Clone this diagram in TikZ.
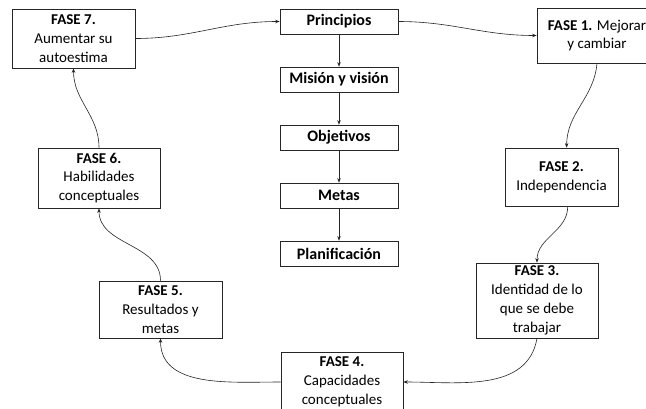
\documentclass[tikz,border=0pt]{standalone}
\usepackage{fontspec}
\setmainfont{Carlito}
\usetikzlibrary{arrows.meta}
\begin{document}
\begin{tikzpicture}[x=1pt,y=-1pt,
  fase/.style={draw=black!85, line width=0.7pt, align=center, inner sep=0pt,
    font=\fontsize{15}{18.8}\selectfont},
  cbox/.style={draw=black!85, line width=0.7pt, align=center, inner sep=0pt,
    minimum width=118pt, minimum height=25pt, font=\fontsize{16}{18}\selectfont\bfseries},
  conn/.style={line width=0.6pt, draw=black!85, -{Stealth[length=4.5pt,width=3.5pt]}}]
\useasboundingbox (0,0) rectangle (646,408);
\fill[white] (0,0) rectangle (646,408);
\begin{scope}
\clip (0,0) rectangle (646,408);
% center column
\node[cbox] (p)  at (339,21.5)  {Principios};
\node[cbox] (mv) at (339,79.5)  {Misión y visión};
\node[cbox] (ob) at (339,137.5) {Objetivos};
\node[cbox] (me) at (339,195.5) {Metas};
\node[cbox] (pl) at (339,253.5) {Planificación};
% phases
\node[fase, minimum width=123pt, minimum height=59pt] (f7) at (73.5,38.5)
  {\textbf{FASE 7.}\\Aumentar su\\autoestima};
\node[fase, minimum width=120pt, minimum height=55pt] (f1) at (597,35.5)
  {\textbf{FASE 1.} Mejorar\\y cambiar};
\node[fase, minimum width=113pt, minimum height=58pt] (f2) at (561.5,177)
  {\textbf{FASE 2.}\\Independencia};
\node[fase, minimum width=122pt, minimum height=75pt] (f3) at (537,300.5)
  {\textbf{FASE 3.}\\Identidad de lo\\que se debe\\trabajar};
\node[fase, minimum width=122pt, minimum height=60pt] (f4) at (342,382)
  {\textbf{FASE 4.}\\Capacidades\\conceptuales};
\node[fase, minimum width=123pt, minimum height=57pt] (f5) at (160.5,309.5)
  {\textbf{FASE 5.}\\Resultados y\\metas};
\node[fase, minimum width=122pt, minimum height=60pt] (f6) at (99,178)
  {\textbf{FASE 6.}\\Habilidades\\conceptuales};
% center arrows
\draw[conn] (p) -- (mv);
\draw[conn] (mv) -- (ob);
\draw[conn] (ob) -- (me);
\draw[conn] (me) -- (pl);
% cycle
\draw[conn] (f7.east) to[out=0,in=180] (p.west);
\draw[conn] (p.east) to[out=0,in=180] (f1.west);
\draw[conn] (f1.south) to[out=-95,in=90] (f2.80);
\draw[conn] (f2.-78) to[out=-90,in=90] (f3.north);
\draw[conn] (f3.south) to[out=-100,in=0] (f4.east);
\draw[conn] (f4.west) to[out=180,in=-90] (f5.south);
\draw[conn] (f5.north) to[out=90,in=-90] (f6.south);
\draw[conn] (f6.north) to[out=90,in=-90] (f7.south);
\end{scope}
\end{tikzpicture}
\end{document}
